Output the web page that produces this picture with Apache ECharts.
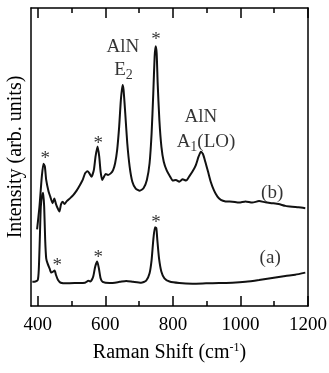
<!DOCTYPE html>
<html>
<head>
<meta charset="utf-8">
<script src="https://cdn.jsdelivr.net/npm/echarts@6/dist/echarts.min.js"></script>
<style>
html, body { margin: 0; padding: 0; background: #fff; }
#chart { width: 329px; height: 373px; }
</style>
</head>
<body>
<div id="chart"></div>
<script>
// spectrum (a)
var shiftA = [384, 393, 400, 403, 406, 409, 413, 416, 419, 422, 425, 429, 435, 440, 445, 450, 454, 460, 468, 486, 515, 540, 550, 556, 564, 570, 576, 581, 586, 592, 613, 643, 662, 682, 706, 721, 731, 737, 742, 747, 751, 754, 759, 766, 775, 790, 819, 858, 898, 937, 976, 1015, 1055, 1094, 1133, 1162, 1192];
var intensityA = [8.1, 8.2, 8.7, 12.1, 22.1, 33.3, 37.2, 38.0, 33.3, 22.1, 16.0, 14.3, 12.6, 11.2, 11.5, 11.9, 10.4, 8.7, 7.8, 7.6, 7.7, 7.8, 8.5, 8.2, 9.8, 13.2, 14.9, 12.6, 9.3, 8.1, 7.7, 8.1, 8.4, 8.1, 7.8, 8.5, 11.0, 15.4, 22.1, 26.4, 26.1, 22.1, 16.0, 11.5, 9.3, 8.2, 7.7, 7.5, 7.6, 7.7, 7.8, 8.1, 8.7, 9.4, 10.1, 10.5, 11.2];

// spectrum (b)
var shiftB = [398, 405, 412, 417, 421, 425, 432, 437, 444, 449, 454, 459, 464, 469, 474, 479, 486, 496, 505, 515, 525, 533, 540, 547, 552, 559, 566, 571, 577, 582, 586, 591, 596, 601, 608, 616, 623, 629, 635, 641, 646, 651, 654, 659, 665, 672, 680, 690, 702, 713, 723, 731, 737, 742, 746, 749, 752, 755, 760, 766, 773, 782, 792, 800, 809, 819, 829, 839, 849, 858, 868, 876, 883, 889, 896, 904, 912, 922, 932, 942, 956, 976, 996, 1015, 1035, 1055, 1074, 1094, 1113, 1133, 1153, 1172, 1192];
var intensityB = [25.7, 33.3, 43.4, 47.7, 46.8, 42.3, 38.4, 36.7, 34.5, 36.1, 34.2, 32.8, 31.7, 34.2, 35.0, 34.2, 35.2, 36.2, 37.2, 38.7, 40.6, 42.3, 44.5, 45.2, 44.7, 43.4, 45.6, 50.1, 53.5, 50.1, 45.1, 42.3, 43.4, 44.3, 44.0, 44.5, 45.6, 47.9, 52.3, 60.2, 69.1, 74.2, 72.5, 64.7, 54.6, 46.8, 41.7, 39.4, 38.7, 39.5, 42.3, 47.9, 57.9, 71.4, 83.7, 87.2, 84.8, 74.7, 62.4, 53.5, 48.4, 45.4, 43.4, 42.1, 42.3, 41.7, 42.5, 42.1, 43.6, 45.1, 47.3, 50.1, 51.8, 51.0, 48.4, 45.1, 41.7, 38.7, 36.7, 35.6, 35.1, 35.0, 34.7, 35.1, 34.7, 35.2, 34.8, 34.5, 34.2, 33.6, 33.3, 33.1, 32.8];

var majorTicks = [400, 600, 800, 1000, 1200];
var minorTicks = [500, 700, 900, 1100];

// annotations: text, shift, intensity
var noteTexts = ['*', '*', '*', '*', '*', '*', '{m|AlN}', '{m|E}{s|2}', '{m|AlN}', '{m|A}{s|1}{m|(LO)}', '{m|(b)}', '{m|(a)}'];
var noteShift = [422, 579, 750, 458, 579, 750, 652, 654, 883, 898, 1094, 1088];
var noteLevel = [49.3, 54.5, 89.4, 13.3, 16.1, 27.9, 87.0, 79.2, 63.3, 55.0, 37.9, 16.1];

var font = 'Liberation Serif';

function pairs(xs, ys) {
	var res = [];
	for (var i = 0; i < xs.length; i++) {
		res.push([xs[i], ys[i]]);
	}
	return res;
}

var notes = [];
for (var i = 0; i < noteTexts.length; i++) {
	notes.push({ value: [noteShift[i], noteLevel[i]], name: noteTexts[i] });
}

function xAxisOf(pos, ticks, len, labels) {
	return {
		type: 'value',
		position: pos,
		min: 380,
		max: 1200,
		axisLine: { show: len > 6, lineStyle: { color: '#000', width: 1.5 } },
		axisTick: { show: true, inside: true, length: len, customValues: ticks, lineStyle: { color: '#000', width: 1.5 } },
		axisLabel: labels ? {
			show: true, customValues: majorTicks, margin: 10,
			formatter: function (v) { return String(v); },
			color: '#000', fontFamily: font, fontSize: 19
		} : { show: false },
		splitLine: { show: false }
	};
}

var chart = echarts.init(document.getElementById('chart'));

var xBottom = xAxisOf('bottom', majorTicks, 10, true);
xBottom.name = '{t|Raman Shift (cm}{sup|-1}{t|)}';
xBottom.nameLocation = 'middle';
xBottom.nameGap = 36;
xBottom.nameTextStyle = {
	rich: {
		t: { fontFamily: font, fontSize: 20, color: '#000', lineHeight: 22 },
		sup: { fontFamily: font, fontSize: 12, color: '#000', lineHeight: 12, padding: [0, 0, 10, 0] }
	}
};

chart.setOption({
	animation: false,
	grid: { left: 31, right: 21, top: 8, bottom: 67, outerBoundsMode: 'none' },
	xAxis: [
		xBottom,
		xAxisOf('bottom', minorTicks, 5, false),
		xAxisOf('top', majorTicks, 10, false),
		xAxisOf('top', minorTicks, 5, false)
	],
	yAxis: [{
		type: 'value',
		position: 'left',
		min: 0,
		max: 100,
		axisLine: { show: true, lineStyle: { color: '#000', width: 1.5 } },
		axisTick: { show: false },
		axisLabel: { show: false },
		splitLine: { show: false },
		name: 'Intensity (arb. units)',
		nameLocation: 'middle',
		nameGap: 5,
		nameTextStyle: { fontFamily: font, fontSize: 20, color: '#000' }
	}, {
		type: 'value',
		position: 'right',
		min: 0,
		max: 100,
		axisLine: { show: true, lineStyle: { color: '#000', width: 1.5 } },
		axisTick: { show: false },
		axisLabel: { show: false },
		splitLine: { show: false }
	}],
	series: [{
		type: 'line',
		name: '(a)',
		data: pairs(shiftA, intensityA),
		showSymbol: false,
		smooth: 0.2,
		lineStyle: { color: '#111', width: 2 }
	}, {
		type: 'line',
		name: '(b)',
		data: pairs(shiftB, intensityB),
		showSymbol: false,
		smooth: 0.2,
		lineStyle: { color: '#111', width: 2 }
	}, {
		type: 'scatter',
		data: notes,
		symbolSize: 1,
		itemStyle: { color: 'rgba(0,0,0,0)' },
		label: {
			show: true,
			position: 'inside',
			formatter: function (p) { return p.name; },
			fontFamily: font,
			fontSize: 19,
			color: '#000',
			rich: {
				m: { fontFamily: font, fontSize: 19, color: '#000', lineHeight: 20 },
				s: { fontFamily: font, fontSize: 14, color: '#000', lineHeight: 14, padding: [10, 0, 0, 0] }
			}
		}
	}]
});
</script>
</body>
</html>
